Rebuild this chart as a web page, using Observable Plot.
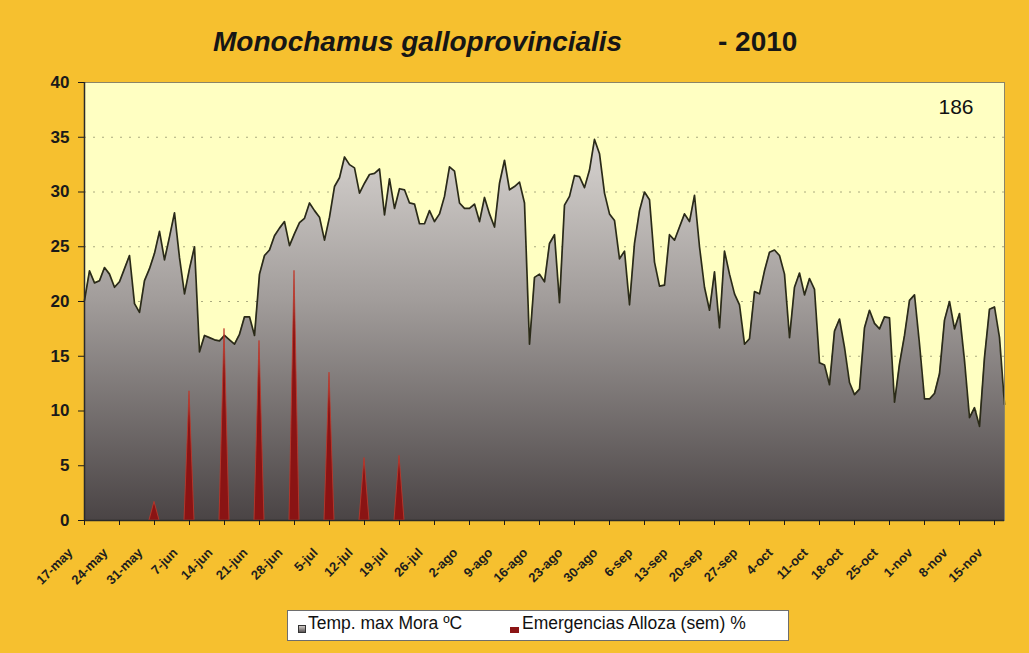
<!DOCTYPE html>
<html><head><meta charset="utf-8">
<script src="https://cdn.jsdelivr.net/npm/d3@7"></script>
<script src="https://cdn.jsdelivr.net/npm/@observablehq/plot@0.6"></script>
<style>
html,body{margin:0;padding:0;}
body{width:1029px;height:653px;background:#f6c02f;position:relative;overflow:hidden;font-family:"Liberation Sans",Arial,sans-serif;color:#161616;}
.ttl{position:absolute;top:28px;font-size:28px;line-height:28px;font-weight:bold;white-space:nowrap;}
#chart{position:absolute;left:0;top:0;}
#legend{position:absolute;left:287px;top:610px;width:502px;height:31px;background:#fff;border:1px solid #6e6e6e;box-sizing:border-box;}
.sw{position:absolute;box-sizing:border-box;}
.lt{position:absolute;font-size:17.5px;line-height:17.5px;white-space:nowrap;color:#111;}
</style></head>
<body>
<div class="ttl" style="left:213px;font-style:italic;">Monochamus galloprovincialis</div>
<div class="ttl" style="left:718px;">- 2010</div>
<div id="chart"></div>
<div id="legend">
  <span class="sw" style="left:10px;top:14px;width:8px;height:8px;border:1px solid #333;background:linear-gradient(#cfcbc7,#5a5455);"></span>
  <span class="lt" style="left:20px;top:4px;">Temp. max Mora ºC</span>
  <span class="sw" style="left:222px;top:16px;width:9px;height:6px;background:#8c1515;"></span>
  <span class="lt" style="left:234px;top:4px;">Emergencias Alloza (sem) %</span>
</div>
<script>
const startDate = "2010-05-17";
const tempMax = [
20.1,22.8,21.7,21.9,23.1,22.5,21.3,21.8,23.0,24.2,
19.8,19.0,21.9,23.0,24.4,26.4,23.8,25.9,28.1,24.0,
20.7,23.0,25.0,15.4,16.9,16.7,16.5,16.4,16.9,16.5,
16.1,17.0,18.6,18.6,16.9,22.5,24.2,24.7,26.0,26.7,
27.3,25.1,26.2,27.2,27.6,29.0,28.3,27.7,25.6,27.7,
30.5,31.3,33.2,32.5,32.2,29.9,30.8,31.6,31.7,32.1,
27.9,31.2,28.5,30.3,30.2,29.0,28.9,27.1,27.1,28.3,
27.3,28.0,29.6,32.3,31.9,29.0,28.5,28.5,28.9,27.3,
29.5,28.0,26.8,30.8,32.9,30.2,30.5,30.9,29.0,16.1,
22.2,22.5,21.8,25.3,26.1,19.9,28.8,29.6,31.5,31.4,
30.4,32.0,34.8,33.5,29.9,28.0,27.4,23.9,24.6,19.7,
25.3,28.3,30.0,29.3,23.6,21.4,21.5,26.1,25.6,26.8,
28.0,27.3,29.7,25.0,21.3,19.2,22.7,17.6,24.6,22.5,
20.7,19.7,16.1,16.6,20.9,20.7,22.8,24.5,24.7,24.2,
22.5,16.7,21.3,22.6,20.6,22.1,21.1,14.4,14.2,12.4,
17.3,18.4,15.8,12.6,11.5,12.0,17.6,19.2,18.0,17.5,
18.6,18.5,10.8,14.3,16.9,20.1,20.6,16.1,11.1,11.1,
11.6,13.4,18.3,20.0,17.5,18.9,14.6,9.4,10.3,8.6,
14.9,19.3,19.5,16.7,10.6
];
const emergDates = ["2010-05-31","2010-06-07","2010-06-14","2010-06-21","2010-06-28","2010-07-05","2010-07-12","2010-07-19"];
const emergValues = [1.7, 11.8, 17.5, 16.4, 22.8, 13.5, 5.7, 5.9];
const monthNames = ["ene","feb","mar","abr","may","jun","jul","ago","sep","oct","nov","dic"];
const yTicks = [0,5,10,15,20,25,30,35,40];
const cornerLabel = "186";

const t0 = new Date(startDate + "T00:00:00Z");
const days = tempMax.map((_, i) => d3.utcDay.offset(t0, i));
const tempData = tempMax.map((v, i) => ({date: days[i], t: v}));
const emData = emergDates.flatMap((s, k) => {
  const d = new Date(s + "T00:00:00Z");
  return [{date: d3.utcDay.offset(d, -1), v: 0, k}, {date: d, v: emergValues[k], k}, {date: d3.utcDay.offset(d, 1), v: 0, k}];
});
const tickDates = d3.utcMonday.range(t0, d3.utcDay.offset(days[days.length - 1], 1));
const fmt = d => `${d.getUTCDate()}-${monthNames[d.getUTCMonth()]}`;

const plot = Plot.plot({
  width: 1029, height: 600,
  marginLeft: 84, marginRight: 25, marginTop: 82, marginBottom: 80,
  style: {background: "transparent", fontFamily: "'Liberation Sans', Arial, sans-serif", color: "#1a1a1a", overflow: "visible"},
  x: {type: "utc", domain: [days[0], days[days.length - 1]]},
  y: {domain: [0, 40]},
  marks: [
    Plot.frame({fill: "#ffffc2", stroke: null}),
    Plot.gridY(yTicks.filter(v => v > 0 && v < 40), {stroke: "#8e8e6a", strokeOpacity: 0.75, strokeDasharray: "2,7"}),
    Plot.areaY(tempData, {x: "date", y: "t", fill: "url(#grayGrad)"}),
    Plot.lineY(tempData, {x: "date", y: "t", stroke: "#2a2a18", strokeWidth: 1.7}),
    Plot.areaY(emData, {x: "date", y: "v", z: "k", fill: "#8a1414", stroke: "#c23a2c", strokeWidth: 0.8}),
    Plot.frame({stroke: "#8a8468", strokeWidth: 1}),
    Plot.ruleX([days[0]], {stroke: "#2a2a2a", strokeWidth: 1.5}),
    Plot.ruleY([0], {stroke: "#2a2a2a", strokeWidth: 1.5}),
    Plot.axisY({ticks: yTicks, tickSize: 6, tickPadding: 9, fontSize: 17, fontWeight: "bold", label: null}),
    Plot.axisX({ticks: tickDates, tickSize: 5, tickFormat: () => "", label: null}),
    Plot.axisX({ticks: tickDates, tickFormat: fmt, tickRotate: -45, tickSize: 0, tickPadding: 30, dx: -14, fontSize: 13, fontWeight: "bold", fill: "#1e1e1e", label: null}),
    Plot.text([cornerLabel], {frameAnchor: "top-right", dx: -31, dy: 17, fontSize: 21, fill: "#111", lineAnchor: "top"})
  ]
});
const ys = plot.scale("y");
const yTop = ys.apply(40), yBot = ys.apply(0);
d3.select(plot).insert("defs", ":first-child").html(
  `<linearGradient id="grayGrad" gradientUnits="userSpaceOnUse" x1="0" y1="${yTop}" x2="0" y2="${yBot}">
     <stop offset="0" stop-color="#e0dcd8"/>
     <stop offset="0.2" stop-color="#cdc9c6"/>
     <stop offset="0.5" stop-color="#a19c9a"/>
     <stop offset="1" stop-color="#4a4445"/>
   </linearGradient>`);
document.getElementById("chart").appendChild(plot);
</script>
</body></html>
